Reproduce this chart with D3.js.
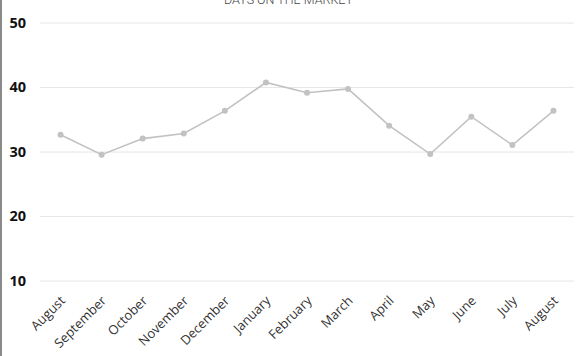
<!DOCTYPE html>
<html>
<head>
<meta charset="utf-8">
<script src="https://cdn.jsdelivr.net/npm/d3@7"></script>
<style>
  html, body { margin: 0; padding: 0; background: #fff; }
  svg { display: block; }
</style>
</head>
<body>
<svg id="chart" width="577" height="356"></svg>
<script>
const title = "DAYS ON THE MARKET";
const months = ["August", "September", "October", "November", "December", "January",
  "February", "March", "April", "May", "June", "July", "August"];
const daysOnMarket = [32.6, 29.5, 32.0, 32.8, 36.3, 40.7, 39.1, 39.7, 34.0, 29.6, 35.4, 31.0, 36.3];
const yTicks = [10, 20, 30, 40, 50];

(function () {
const svg = d3.select("#chart");
const W = 577, H = 356;
const mLeft = 40, mRight = 574, mTop = 22.5, mBottom = 280.5;

const keys = months.map((m, i) => i);
const x = d3.scalePoint().domain(keys).range([mLeft, mRight]).padding(0.5);
const y = d3.scaleLinear().domain([10, 50]).range([mBottom, mTop]);

// left border
svg.append("rect").attr("x", 0).attr("y", 0).attr("width", 2).attr("height", H).attr("fill", "#8a8a8a");

// title (mostly cropped at the top, as in the source image)
svg.append("text")
  .attr("x", W / 2).attr("y", 4)
  .attr("text-anchor", "middle")
  .attr("font-family", "Roboto, 'Liberation Sans', sans-serif")
  .attr("font-weight", 300)
  .attr("font-size", 12.5)
  .attr("fill", "#444")
  .text(title);

// gridlines
const yAxis = d3.axisLeft(y).tickValues(yTicks).tickSize(-(mRight - mLeft)).tickFormat("");
const gy = svg.append("g").attr("transform", `translate(${mLeft},0)`).call(yAxis);
gy.select(".domain").remove();
gy.selectAll(".tick line").attr("stroke", "#e6e6e6").attr("stroke-width", 1);

// y labels
const yLab = d3.axisLeft(y).tickValues(yTicks).tickSize(0).tickPadding(0);
const gl = svg.append("g").attr("transform", `translate(26,0)`).call(yLab);
gl.select(".domain").remove();
gl.selectAll(".tick text")
  .attr("font-family", "'Open Sans', sans-serif")
  .attr("font-weight", 700)
  .attr("font-size", 14.5)
  .attr("fill", "#111");

// x labels
const xAxis = d3.axisBottom(x).tickSize(0).tickFormat(i => months[i]);
const gx = svg.append("g").attr("transform", `translate(0,${mBottom})`).call(xAxis);
gx.select(".domain").remove();
gx.selectAll(".tick text")
  .attr("font-family", "'Open Sans', sans-serif")
  .attr("font-size", 13)
  .attr("fill", "#333")
  .attr("text-anchor", "end")
  .attr("dy", null)
  .attr("y", 0)
  .attr("transform", "translate(5,21) rotate(-45)");

// line
const line = d3.line().x((d, i) => x(i)).y(d => y(d));
svg.append("path")
  .datum(daysOnMarket)
  .attr("d", line)
  .attr("fill", "none")
  .attr("stroke", "#c2c2c2")
  .attr("stroke-width", 1.6);

svg.selectAll("circle.pt")
  .data(daysOnMarket)
  .join("circle")
  .attr("class", "pt")
  .attr("cx", (d, i) => x(i))
  .attr("cy", d => y(d))
  .attr("r", 3)
  .attr("fill", "#c2c2c2");
})();
</script>
</body>
</html>
